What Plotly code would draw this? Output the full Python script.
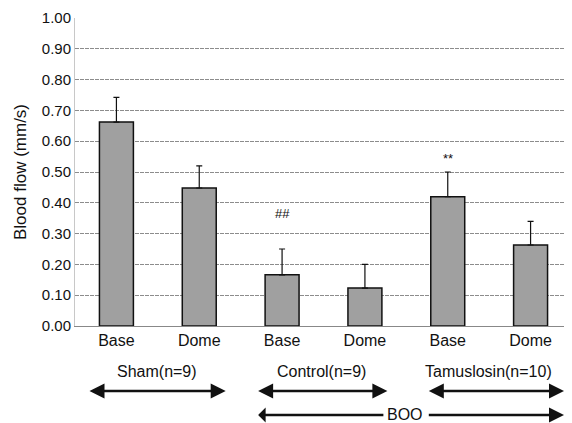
import plotly.graph_objects as go

categories = ["Base", "Dome", "Base", "Dome", "Base", "Dome"]
values = [0.662, 0.448, 0.166, 0.123, 0.420, 0.263]
errors = [0.080, 0.072, 0.084, 0.077, 0.080, 0.077]
marks = ["", "", "##", "", "**", ""]
mark_y = [0, 0, 0.365, 0, 0.545, 0]
y_ticks = [0.0, 0.1, 0.2, 0.3, 0.4, 0.5, 0.6, 0.7, 0.8, 0.9, 1.0]
groups = ["Sham(n=9)", "Control(n=9)", "Tamuslosin(n=10)"]

xpos = list(range(len(categories)))
font = "Liberation Sans, Arial, sans-serif"

fig = go.Figure()
fig.add_trace(go.Bar(
    x=xpos, y=values, width=0.41,
    marker=dict(color="#a0a0a0", line=dict(color="#111111", width=1.5)),
    error_y=dict(type="data", array=errors, arrayminus=[0]*len(errors), symmetric=False,
                 color="#111111", thickness=1.2, width=3),
))

for i, (m, my) in enumerate(zip(marks, mark_y)):
    if m:
        fig.add_annotation(x=i, y=my, text=m, showarrow=False,
                           font=dict(size=13, color="#111"), yanchor="middle")

# The page body has an 8px margin; the figure is sized/positioned to compensate.
def px2x(px):
    return (px - 75) / 83.0 - 0.5

def py2y(py):
    return (326 - py) / 308.0

label_pos = [157, 322, 489]
arrows = [(88, 226), (257, 388), (428, 565)]
for g, lx, (a0, a1) in zip(groups, label_pos, arrows):
    fig.add_annotation(x=px2x(lx), y=py2y(371), xref="x", yref="paper", text=g,
                       showarrow=False, xanchor="center", yanchor="middle",
                       font=dict(size=16, color="#111"))
    fig.add_annotation(x=px2x(a1), y=py2y(391), ax=px2x(a0), ay=0,
                       xref="x", yref="paper", axref="x", ayref="pixel",
                       text="", showarrow=True, arrowhead=2, arrowsize=1.2,
                       arrowwidth=2.5, arrowcolor="#111", arrowside="end+start",
                       standoff=0, startstandoff=0)

fig.add_annotation(x=px2x(384), y=py2y(415), ax=px2x(257), ay=0,
                   xref="x", yref="paper", axref="x", ayref="pixel",
                   text="", showarrow=True, arrowhead=2, arrowsize=1.2,
                   arrowwidth=2.5, arrowcolor="#111", arrowside="start",
                   standoff=0, startstandoff=0)
fig.add_annotation(x=px2x(565), y=py2y(415), ax=px2x(428), ay=0,
                   xref="x", yref="paper", axref="x", ayref="pixel",
                   text="", showarrow=True, arrowhead=2, arrowsize=1.2,
                   arrowwidth=2.5, arrowcolor="#111", arrowside="end",
                   standoff=0, startstandoff=0)
fig.add_annotation(x=px2x(406), y=py2y(415), xref="x", yref="paper", text="BOO",
                   showarrow=False, xanchor="center", yanchor="middle",
                   font=dict(size=16, color="#111"))

fig.update_layout(
    width=564, height=415,
    margin=dict(l=67, r=0, t=10, b=97, autoexpand=False),
    paper_bgcolor="white", plot_bgcolor="white",
    showlegend=False,
    font=dict(family=font, size=14, color="#111"),
    xaxis=dict(tickmode="array", tickvals=xpos, ticktext=categories,
               range=[-0.5, 5.5], showgrid=False, showline=True, automargin=False,
               linecolor="#888", linewidth=1, ticks="", tickfont=dict(size=16)),
    yaxis=dict(range=[0, 1.0], tickmode="array", tickvals=y_ticks, automargin=False,
               ticktext=[f"{t:.2f}" for t in y_ticks], showgrid=True,
               gridcolor="#8c8c8c", gridwidth=1, griddash="4px,1px",
               showline=True, linecolor="#c8c8c8", zeroline=False,
               ticks="", tickfont=dict(size=15),
               title=dict(text="Blood flow (mm/s)", font=dict(size=17), standoff=10)),
)

fig.write_html("out.html")
